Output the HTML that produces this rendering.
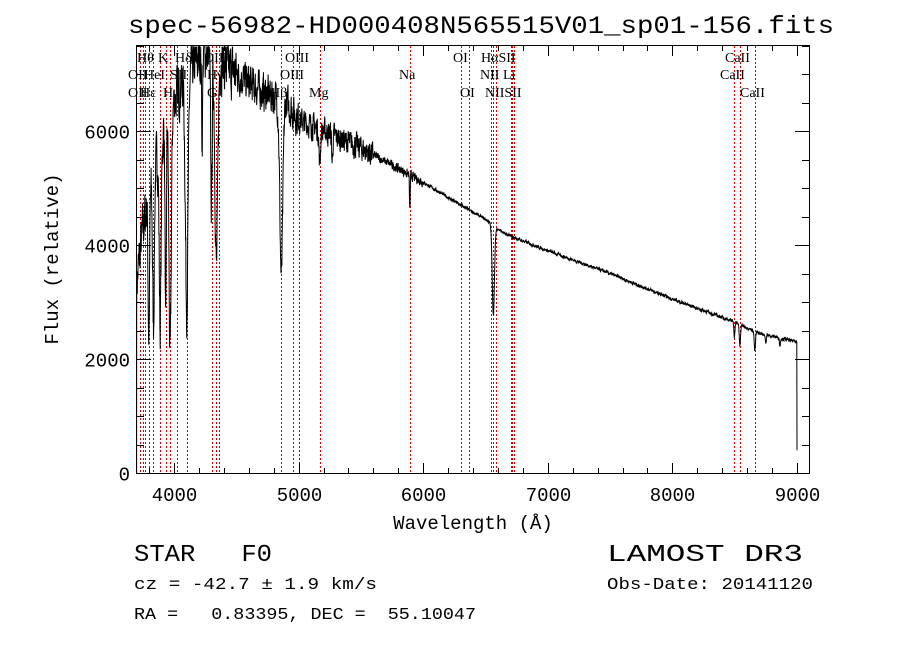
<!DOCTYPE html>
<html><head><meta charset="utf-8"><style>
html,body{margin:0;padding:0;background:#fff;}
svg{display:block;}
.s{font-family:"Liberation Serif",serif;fill:#000;}
.m{font-family:"Liberation Mono",monospace;fill:#000;white-space:pre;}
</style></head><body>
<svg id="s" width="900" height="649" viewBox="0 0 900 649" xmlns="http://www.w3.org/2000/svg" xml:space="preserve">
<rect width="900" height="649" fill="#fff"/>
<text x="481" y="33" text-anchor="middle" class="m" font-size="25" textLength="706" lengthAdjust="spacingAndGlyphs">spec-56982-HD000408N565515V01_sp01-156.fits</text>
<g id="lines" stroke="#d00000" stroke-width="1" stroke-dasharray="2,2" shape-rendering="crispEdges"></g>
<g id="labs"></g>
<polyline id="spec" fill="none" stroke="#000" stroke-width="1"/>
<rect x="136.5" y="45.5" width="673" height="428" fill="none" stroke="#000" stroke-width="1"/>
<g id="ticks" stroke="#000" stroke-width="1"></g>
<g id="tl"></g>
<text x="473" y="529" text-anchor="middle" class="m" font-size="19">Wavelength (Å)</text>
<text transform="translate(58,259) rotate(-90)" text-anchor="middle" class="m" font-size="19">Flux (relative)</text>
<text x="134" y="561" font-size="24" class="m" textLength="138" lengthAdjust="spacingAndGlyphs">STAR   F0</text>
<text x="607" y="561" font-size="24" class="m" textLength="196" lengthAdjust="spacingAndGlyphs">LAMOST DR3</text>
<text x="134" y="589" font-size="17" class="m" textLength="243" lengthAdjust="spacingAndGlyphs">cz = -42.7 ± 1.9 km/s</text>
<text x="607" y="589" font-size="17" class="m" textLength="206" lengthAdjust="spacingAndGlyphs">Obs-Date: 20141120</text>
<text x="134" y="619" font-size="17" class="m" textLength="342" lengthAdjust="spacingAndGlyphs">RA =   0.83395, DEC =  55.10047</text>
</svg>
<script>
var NS="http://www.w3.org/2000/svg";
function X(l){return 136.6+(l-3700)*0.1246;}
function Y(f){return 473-f*0.057;}
function el(p,t,a,tx){var e=document.createElementNS(NS,t);for(var k in a)e.setAttribute(k,a[k]);if(tx)e.textContent=tx;document.getElementById(p).appendChild(e);}
[3727,3750,3771,3798,3835,3889,3934,3969,4026,4102,4304,4340,4363,4861,4959,5007,5175,5893,6300,6364,6548,6563,6583,6707,6716,6731,8498,8542,8662].forEach(function(l){var x=Math.round(X(l))+0.5;el("lines","line",{x1:x,x2:x,y1:46,y2:473});});
[["Hθ",137,62],["K",158,62],["Hδ",175,62],["OIII",204,62],["OIII",285,62],["OI",453,62],["HαSII",481,62],["CaII",725,62],
["OII",128,79],["HeI",144,79],["SII",170,79],["Hγ",207,79],["OIII",280,79],["Na",399,79],["NII",480,79],["Li",503,79],["CaII",720,79],
["OII",128,97],["Hε",140,97],["H",163,97],["G",207,97],["Hβ",270,97],["Mg",309,97],["OI",460,97],["NIISII",485,97],["CaII",740,97]].forEach(function(a){el("labs","text",{x:a[1],y:a[2],"class":"s","font-size":"14"},a[0]);});
for(var l=3800;l<=9000;l+=200){var x=Math.round(X(l))+0.5,big=l%1000==0,h=big?10:5;el("ticks","line",{x1:x,x2:x,y1:473,y2:473-h});el("ticks","line",{x1:x,x2:x,y1:46,y2:46+h});if(big)el("tl","text",{x:x,y:501,"text-anchor":"middle","class":"m","font-size":"19"},""+l);}
for(var f=0;f<=7500;f+=500){var y=Math.round(Y(f))+0.5,big=f%2000==0,w=big?14:7;el("ticks","line",{x1:137,x2:137+w,y1:y,y2:y});el("ticks","line",{x1:809,x2:809-w,y1:y,y2:y});if(big)el("tl","text",{x:130,y:y+7,"text-anchor":"end","class":"m","font-size":"19"},""+f);}
var A=[[3700,3300],[3750,4300],[3850,5400],[3950,6300],[4100,7000],[4250,7400],[4500,7000],[4700,6700],[4900,6500],[5000,6200],[5200,6000],[5500,5700],[6000,5100],[6300,4700],[6500,4450],[6650,4200],[7000,3900],[7500,3500],[8000,3050],[8500,2650],[8700,2450],[9000,2300]];
function cont(l){for(var i=0;i<A.length-1;i++){if(l<=A[i+1][0]){var t=(l-A[i][0])/(A[i+1][0]-A[i][0]);return A[i][1]+t*(A[i+1][1]-A[i][1]);}}return 2300;}
var L=[[3798,.5,6],[3835,.5,7],[3889,.55,8],[3934,.6,5],[3969,.68,9],[4102,.58,11],[4226,.2,4],[4300,.35,6],[4340,.5,11],[4861,.47,12],[5170,.1,6],[5270,.08,4],[5893,.12,3],[6563,.36,9],[8498,.1,4],[8542,.14,5],[8662,.14,5],[8750,.06,4],[8863,.06,4]];
var seed=7;function r(){seed=(seed*16807)%2147483647;return seed/2147483647-0.5;}
var pts=[],sm=0;
pts.push(X(3700).toFixed(1)+","+Y(0).toFixed(1));
for(var l=3701;l<=9000;l+=1.6){var f=cont(l);L.forEach(function(a){var d=(l-a[0])/a[2];f*=1-a[1]*Math.exp(-0.5*d*d);});
var amp=l<4500?800:l<5000?550:l<5600?380:l<6000?140:50;sm=0.4*sm+r()*amp;f+=sm;if(f>7480)f=7480;if(f<0)f=0;
pts.push(X(l).toFixed(1)+","+Y(f).toFixed(1));}
pts.push(X(9000).toFixed(1)+","+Y(400).toFixed(1));
document.getElementById("spec").setAttribute("points",pts.join(" "));
</script>
</body></html>
